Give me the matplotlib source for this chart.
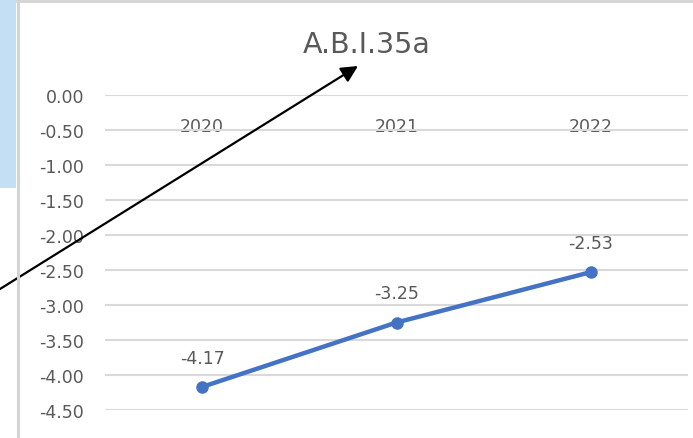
import matplotlib
matplotlib.use("Agg")
import matplotlib.pyplot as plt
from matplotlib.patches import Rectangle
from matplotlib.lines import Line2D

plt.rcParams['font.family'] = ['DejaVu Sans']

# Data
categories = ["2020", "2021", "2022"]
values = [-4.17, -3.25, -2.53]
y_ticks = [0.00, -0.50, -1.00, -1.50, -2.00, -2.50, -3.00, -3.50, -4.00, -4.50]
title = "A.B.I.35a"

W, H = 693, 439
dpi = 100
fig = plt.figure(figsize=(W / dpi, H / dpi), dpi=dpi)
fig.patch.set_facecolor("white")

# Background decoration: pale blue strip and frame lines
fig.add_artist(Rectangle((0, 1 - 189 / H), 16 / W, 189 / H, transform=fig.transFigure,
                         facecolor="#c4def3", edgecolor="none", zorder=0))
fig.add_artist(Line2D([17.5 / W, 17.5 / W], [0, 1], transform=fig.transFigure,
                      color="#d4d4d4", lw=2.2, zorder=1))
fig.add_artist(Line2D([17 / W, 1], [1 - 2 / H, 1 - 2 / H], transform=fig.transFigure,
                      color="#d4d4d4", lw=2.0, zorder=1))

left, right = 105 / W, 688 / W
top, bottom = 1 - 96 / H, 1 - 411 / H
ax = fig.add_axes([left, bottom, right - left, top - bottom])
ax.set_facecolor("none")

x = list(range(len(categories)))
ax.plot(x, values, color="#4472c4", lw=3.2, marker="o", markersize=8,
        solid_capstyle="round", zorder=3, clip_on=False)

for xi, v in zip(x, values):
    ax.annotate(f"{v:.2f}", (xi, v), xytext=(0, 21), textcoords="offset points",
                ha="center", va="center", fontsize=12.5, color="#595959")

ax.set_xlim(-0.5, len(categories) - 0.5)
ax.set_ylim(min(y_ticks), max(y_ticks))
ax.set_yticks(y_ticks)
ax.set_yticklabels([f"{t:.2f}" for t in y_ticks])
ax.grid(axis="y", color="#d9d9d9", lw=1.5)
ax.set_axisbelow(True)

ax.xaxis.set_ticks_position("top")
ax.set_xticks(x)
ax.set_xticklabels(categories)
ax.tick_params(axis="x", length=0, labeltop=True, labelbottom=False, pad=-29,
               labelsize=12.5, labelcolor="#595959")
ax.tick_params(axis="y", length=0, pad=15, labelsize=12.5, labelcolor="#595959")
for s in ax.spines.values():
    s.set_visible(False)

fig.text(367 / W, 1 - 45 / H, title, ha="center", va="center",
         fontsize=20.5, color="#595959")

# Pointer arrow toward the title
ax.annotate("", xy=(358, H - 67), xytext=(0, H - 290),
            xycoords="figure pixels", textcoords="figure pixels",
            arrowprops=dict(arrowstyle="-|>,head_length=1.0,head_width=0.5",
                            color="black", lw=1.6, shrinkA=0, shrinkB=0),
            annotation_clip=False)

fig.savefig("out.png", dpi=dpi, facecolor="white")
